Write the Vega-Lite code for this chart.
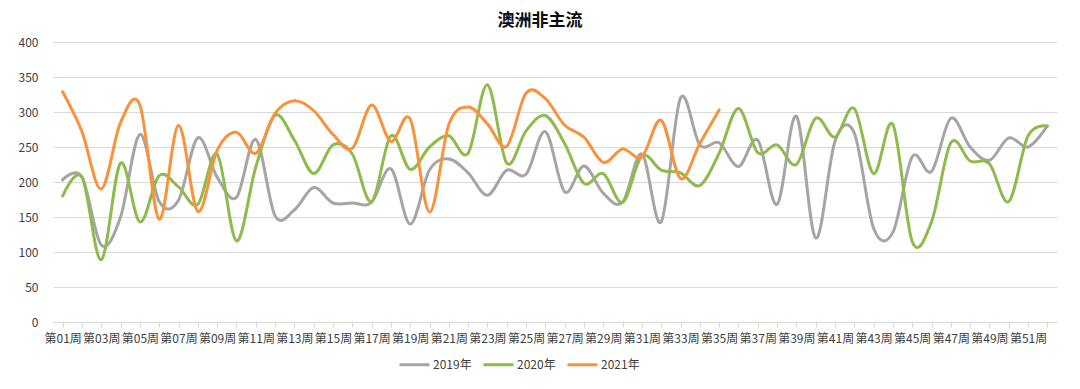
{
  "$schema": "https://vega.github.io/schema/vega-lite/v6.json",
  "width": 1004,
  "height": 280,
  "autosize": {"type": "none"},
  "padding": {"left": 53, "top": 42, "right": 23, "bottom": 67},
  "background": "#ffffff",
  "title": {
    "text": "澳洲非主流",
    "anchor": "middle",
    "dx": -15,
    "offset": 6,
    "font": "Noto Sans CJK SC",
    "fontSize": 17,
    "fontWeight": "bold",
    "color": "#0d0d0d"
  },
  "data": {
    "values": [
      {"week":"第01周","year":"2019年","value":203},{"week":"第02周","year":"2019年","value":207},{"week":"第03周","year":"2019年","value":110},{"week":"第04周","year":"2019年","value":150},{"week":"第05周","year":"2019年","value":268},{"week":"第06周","year":"2019年","value":172},{"week":"第07周","year":"2019年","value":174},{"week":"第08周","year":"2019年","value":263},{"week":"第09周","year":"2019年","value":207},{"week":"第10周","year":"2019年","value":178},
      {"week":"第11周","year":"2019年","value":261},{"week":"第12周","year":"2019年","value":152},{"week":"第13周","year":"2019年","value":160},{"week":"第14周","year":"2019年","value":192},{"week":"第15周","year":"2019年","value":170},{"week":"第16周","year":"2019年","value":170},{"week":"第17周","year":"2019年","value":171},{"week":"第18周","year":"2019年","value":219},{"week":"第19周","year":"2019年","value":140},{"week":"第20周","year":"2019年","value":217},
      {"week":"第21周","year":"2019年","value":233},{"week":"第22周","year":"2019年","value":213},{"week":"第23周","year":"2019年","value":181},{"week":"第24周","year":"2019年","value":217},{"week":"第25周","year":"2019年","value":211},{"week":"第26周","year":"2019年","value":272},{"week":"第27周","year":"2019年","value":186},{"week":"第28周","year":"2019年","value":223},{"week":"第29周","year":"2019年","value":184},{"week":"第30周","year":"2019年","value":171},
      {"week":"第31周","year":"2019年","value":240},{"week":"第32周","year":"2019年","value":143},{"week":"第33周","year":"2019年","value":320},{"week":"第34周","year":"2019年","value":253},{"week":"第35周","year":"2019年","value":256},{"week":"第36周","year":"2019年","value":222},{"week":"第37周","year":"2019年","value":260},{"week":"第38周","year":"2019年","value":168},{"week":"第39周","year":"2019年","value":294},{"week":"第40周","year":"2019年","value":120},
      {"week":"第41周","year":"2019年","value":258},{"week":"第42周","year":"2019年","value":270},{"week":"第43周","year":"2019年","value":134},{"week":"第44周","year":"2019年","value":128},{"week":"第45周","year":"2019年","value":236},{"week":"第46周","year":"2019年","value":215},{"week":"第47周","year":"2019年","value":291},{"week":"第48周","year":"2019年","value":250},{"week":"第49周","year":"2019年","value":231},{"week":"第50周","year":"2019年","value":263},
      {"week":"第51周","year":"2019年","value":250},{"week":"第52周","year":"2019年","value":280},
      {"week":"第01周","year":"2020年","value":180},{"week":"第02周","year":"2020年","value":207},{"week":"第03周","year":"2020年","value":89},{"week":"第04周","year":"2020年","value":227},{"week":"第05周","year":"2020年","value":143},{"week":"第06周","year":"2020年","value":209},{"week":"第07周","year":"2020年","value":193},{"week":"第08周","year":"2020年","value":168},{"week":"第09周","year":"2020年","value":240},{"week":"第10周","year":"2020年","value":116},
      {"week":"第11周","year":"2020年","value":221},{"week":"第12周","year":"2020年","value":295},{"week":"第13周","year":"2020年","value":260},{"week":"第14周","year":"2020年","value":212},{"week":"第15周","year":"2020年","value":253},{"week":"第16周","year":"2020年","value":240},{"week":"第17周","year":"2020年","value":172},{"week":"第18周","year":"2020年","value":266},{"week":"第19周","year":"2020年","value":218},{"week":"第20周","year":"2020年","value":250},
      {"week":"第21周","year":"2020年","value":266},{"week":"第22周","year":"2020年","value":241},{"week":"第23周","year":"2020年","value":339},{"week":"第24周","year":"2020年","value":227},{"week":"第25周","year":"2020年","value":273},{"week":"第26周","year":"2020年","value":295},{"week":"第27周","year":"2020年","value":255},{"week":"第28周","year":"2020年","value":198},{"week":"第29周","year":"2020年","value":212},{"week":"第30周","year":"2020年","value":171},
      {"week":"第31周","year":"2020年","value":237},{"week":"第32周","year":"2020年","value":217},{"week":"第33周","year":"2020年","value":213},{"week":"第34周","year":"2020年","value":195},{"week":"第35周","year":"2020年","value":241},{"week":"第36周","year":"2020年","value":305},{"week":"第37周","year":"2020年","value":242},{"week":"第38周","year":"2020年","value":253},{"week":"第39周","year":"2020年","value":225},{"week":"第40周","year":"2020年","value":291},
      {"week":"第41周","year":"2020年","value":264},{"week":"第42周","year":"2020年","value":305},{"week":"第43周","year":"2020年","value":212},{"week":"第44周","year":"2020年","value":282},{"week":"第45周","year":"2020年","value":115},{"week":"第46周","year":"2020年","value":143},{"week":"第47周","year":"2020年","value":256},{"week":"第48周","year":"2020年","value":230},{"week":"第49周","year":"2020年","value":226},{"week":"第50周","year":"2020年","value":172},
      {"week":"第51周","year":"2020年","value":266},{"week":"第52周","year":"2020年","value":280},
      {"week":"第01周","year":"2021年","value":329},{"week":"第02周","year":"2021年","value":272},{"week":"第03周","year":"2021年","value":190},{"week":"第04周","year":"2021年","value":285},{"week":"第05周","year":"2021年","value":310},{"week":"第06周","year":"2021年","value":147},{"week":"第07周","year":"2021年","value":281},{"week":"第08周","year":"2021年","value":158},{"week":"第09周","year":"2021年","value":245},{"week":"第10周","year":"2021年","value":271},
      {"week":"第11周","year":"2021年","value":241},{"week":"第12周","year":"2021年","value":298},{"week":"第13周","year":"2021年","value":316},{"week":"第14周","year":"2021年","value":302},{"week":"第15周","year":"2021年","value":268},{"week":"第16周","year":"2021年","value":248},{"week":"第17周","year":"2021年","value":310},{"week":"第18周","year":"2021年","value":258},{"week":"第19周","year":"2021年","value":290},{"week":"第20周","year":"2021年","value":157},
      {"week":"第21周","year":"2021年","value":282},{"week":"第22周","year":"2021年","value":307},{"week":"第23周","year":"2021年","value":283},{"week":"第24周","year":"2021年","value":251},{"week":"第25周","year":"2021年","value":327},{"week":"第26周","year":"2021年","value":319},{"week":"第27周","year":"2021年","value":281},{"week":"第28周","year":"2021年","value":264},{"week":"第29周","year":"2021年","value":228},{"week":"第30周","year":"2021年","value":247},
      {"week":"第31周","year":"2021年","value":236},{"week":"第32周","year":"2021年","value":288},{"week":"第33周","year":"2021年","value":205},{"week":"第34周","year":"2021年","value":255},{"week":"第35周","year":"2021年","value":303}
    ]
  },
  "mark": {"type": "line", "interpolate": "cardinal", "strokeWidth": 3, "strokeCap": "round"},
  "encoding": {
    "x": {
      "field": "week",
      "type": "ordinal",
      "sort": "ascending",
      "scale": {"paddingInner": 0, "paddingOuter": 0},
      "axis": {
        "title": null,
        "labelAngle": 0,
        "labelOverlap": false,
        "labelExpr": "parseInt(substring(datum.label,1,3)) % 2 == 1 ? datum.label : ''",
        "labelFont": "Noto Sans CJK SC",
        "labelFontSize": 12,
        "labelColor": "#404040",
        "labelPadding": 6,
        "bandPosition": 0,
        "ticks": true,
        "tickSize": 5,
        "tickColor": "#d9d9d9",
        "domainColor": "#d9d9d9",
        "grid": false
      }
    },
    "y": {
      "field": "value",
      "type": "quantitative",
      "scale": {"domain": [0, 400], "nice": false},
      "axis": {
        "title": null,
        "values": [0, 50, 100, 150, 200, 250, 300, 350, 400],
        "domain": false,
        "ticks": false,
        "labelPadding": 15,
        "labelFont": "Noto Sans CJK SC",
        "labelFontSize": 12,
        "labelColor": "#404040",
        "gridColor": "#d9d9d9",
        "gridWidth": 1
      }
    },
    "color": {
      "field": "year",
      "type": "nominal",
      "scale": {"domain": ["2019年", "2020年", "2021年"], "range": ["#a5a5a5", "#8dbb4c", "#f9923c"]},
      "legend": {
        "title": null,
        "orient": "none",
        "direction": "horizontal",
        "legendX": 345,
        "legendY": 306,
        "symbolType": "stroke",
        "symbolSize": 900,
        "symbolStrokeWidth": 3,
        "columnPadding": 5,
        "labelOffset": 2,
        "labelFont": "Noto Sans CJK SC",
        "labelFontSize": 12,
        "labelColor": "#404040"
      }
    }
  },
  "config": {"view": {"stroke": null}}
}
